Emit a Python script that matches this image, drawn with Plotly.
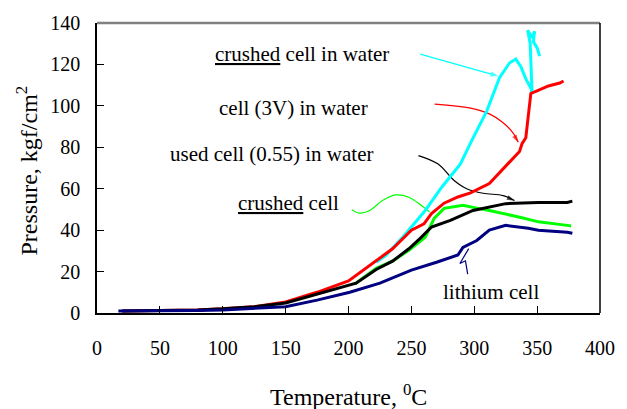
import plotly.graph_objects as go

# Pressure vs temperature records (T in degC, P in kgf/cm2)
crushed_water_T = [222, 230, 243, 252, 261, 274, 289, 297, 310, 320, 328, 333, 337, 341, 345, 346,
                   345.5, 344.5, 342.5, 346, 348, 347, 350, 352]
crushed_water_P = [24.5, 28, 36.5, 43, 49.5, 60.6, 72, 82, 97.6, 113.5, 120.7, 122.6, 119, 113, 108.6, 106,
                   118, 130, 136.5, 133, 136, 131, 128, 124]

cell3v_water_T = [20, 50, 80, 100, 125, 150, 175, 200, 214, 222, 235, 250, 260, 266, 276, 287, 297,
                  312, 325, 336, 338, 341, 342, 343, 345, 349, 359, 368, 371]
cell3v_water_P = [1, 1.2, 1.5, 2, 3, 5.3, 10, 15.5, 21.6, 25.5, 31, 40, 43, 48, 53, 56, 58,
                  62.5, 71, 78, 81.7, 84.6, 90, 96, 106, 107, 109.6, 111, 112]

used_water_T = [20, 50, 80, 100, 125, 150, 175, 200, 206, 222, 235, 248, 257, 266, 281, 299,
                312, 325, 351, 374, 378]
used_water_P = [1, 1.2, 1.5, 2, 3, 4.8, 9, 13.5, 14.4, 21, 25, 31, 36, 41.5, 44.7, 49.5,
                51, 52.8, 53.4, 53.4, 54]

crushed_T = [205, 222, 235, 248, 261, 268, 276, 291, 299, 312, 338, 351, 374, 377]
crushed_P = [14, 21.6, 25, 30.3, 36.5, 45.6, 50.5, 52, 51, 49.5, 46, 44, 42.3, 42]

lithium_T = [17, 50, 80, 100, 125, 150, 175, 201, 225, 250, 270, 287, 291, 302, 312, 325,
             343, 351, 374, 378]
lithium_P = [1, 1, 1.2, 1.5, 2.2, 3, 6.2, 10, 14.4, 20.7, 24.5, 28, 31.7, 35, 40, 42.3,
             40.9, 40, 39, 38.5]

# Leader lines from the labels to their curves
lead_crushed_water_T = [257, 319]
lead_crushed_water_P = [125, 114.4]
lead_cell3v_T = [268.5, 297, 312.4, 322.7, 330.5, 335]
lead_cell3v_P = [100.8, 98.9, 96, 92, 87.2, 82.4]
lead_used_T = [255.6, 271, 284, 294, 307, 323, 332]
lead_used_P = [76, 72, 64, 60, 57.8, 56.7, 54.3]
lead_crushed_T = [202.6, 209, 216.8, 227, 237.5, 248, 258, 264.6]
lead_crushed_P = [49.9, 48.2, 49.5, 54.3, 57, 55.9, 51.9, 48.7]
lead_lithium_T = [295.6, 291.7, 288.6, 293, 294.8]
lead_lithium_P = [31.1, 27.1, 23.9, 25.2, 18.75]

x_ticks = [0, 50, 100, 150, 200, 250, 300, 350, 400]
y_ticks = [0, 20, 40, 60, 80, 100, 120, 140]

CYAN, RED, GREEN, BLACK, NAVY = "#00FFFF", "#FF0000", "#00FF00", "#000000", "#000080"
FONT = "Liberation Serif, Times New Roman, serif"

fig = go.Figure()


def leader(xs, ys, color, spline=False, head=False):
    """Thin leader line; optionally finished with an arrowhead on its last point."""
    n = len(xs)
    trace = dict(x=xs, y=ys, hoverinfo="skip",
                 line=dict(color=color, width=1.2, shape="spline" if spline else "linear"))
    if head:
        trace["mode"] = "lines+markers"
        trace["marker"] = dict(symbol="arrow", angleref="previous", color=color,
                               size=[0] * (n - 1) + [8], line=dict(width=0))
    else:
        trace["mode"] = "lines"
    fig.add_trace(go.Scatter(**trace))


leader(lead_crushed_water_T, lead_crushed_water_P, CYAN, head=True)
leader(lead_cell3v_T, lead_cell3v_P, RED, spline=True, head=True)
leader(lead_used_T, lead_used_P, BLACK, spline=True, head=True)
leader(lead_crushed_T, lead_crushed_P, GREEN, spline=True)
leader(lead_lithium_T, lead_lithium_P, NAVY)

# Measured curves
fig.add_trace(go.Scatter(x=crushed_water_T, y=crushed_water_P, mode="lines",
                         line=dict(color=CYAN, width=3), name="crushed cell in water"))
fig.add_trace(go.Scatter(x=cell3v_water_T, y=cell3v_water_P, mode="lines",
                         line=dict(color=RED, width=3), name="cell (3V) in water"))
fig.add_trace(go.Scatter(x=crushed_T, y=crushed_P, mode="lines",
                         line=dict(color=GREEN, width=3), name="crushed cell"))
fig.add_trace(go.Scatter(x=used_water_T, y=used_water_P, mode="lines",
                         line=dict(color=BLACK, width=3), name="used cell (0.55) in water"))
fig.add_trace(go.Scatter(x=lithium_T, y=lithium_P, mode="lines",
                         line=dict(color=NAVY, width=3), name="lithium cell"))

labels = [
    dict(x=163, y=125, text="<u>crushed</u> cell in water"),
    dict(x=156.6, y=99, text="cell (3V) in water"),
    dict(x=139.5, y=77, text="used cell (0.55) in water"),
    dict(x=152, y=53, text="<u>crushed</u> cell"),
    dict(x=313.6, y=10, text="lithium cell"),
]
annots = [dict(x=a["x"], y=a["y"], xref="x", yref="y", text=a["text"], showarrow=False,
               font=dict(family=FONT, size=21, color="black"),
               xanchor="center", yanchor="middle") for a in labels]

# Axis titles
annots.append(dict(x=0.5, y=-0.282, xref="paper", yref="paper", text="Temperature, <sup>0</sup>C",
                   showarrow=False, font=dict(family=FONT, size=24, color="black"),
                   xanchor="center", yanchor="middle"))
annots.append(dict(x=-0.14, y=0.49, xref="paper", yref="paper", text="Pressure, kgf/cm<sup>2</sup>",
                   showarrow=False, textangle=-90, font=dict(family=FONT, size=24, color="black"),
                   xanchor="center", yanchor="middle"))

fig.update_layout(
    width=627, height=409,
    margin=dict(l=97, r=17, t=22, b=96),
    paper_bgcolor="white", plot_bgcolor="white",
    showlegend=False,
    font=dict(family=FONT, size=20, color="black"),
    annotations=annots,
    shapes=[
        dict(type="line", xref="paper", yref="paper", x0=0, x1=1, y0=1, y1=1,
             line=dict(color="#808080", width=2.5)),
        dict(type="line", xref="paper", yref="paper", x0=1, x1=1, y0=0, y1=1,
             line=dict(color="black", width=1.5)),
    ],
)
fig.update_xaxes(range=[0, 400], tickvals=x_ticks, ticks="inside", ticklen=7, tickcolor="black",
                 showline=True, linecolor="black", linewidth=1.5, showgrid=False, zeroline=False,
                 ticklabelstandoff=16, tickfont=dict(family=FONT, size=20, color="black"))
fig.update_yaxes(range=[0, 140], tickvals=y_ticks, ticks="inside", ticklen=7, tickcolor="black",
                 showline=True, linecolor="black", linewidth=1.5, showgrid=False, zeroline=False,
                 ticklabelstandoff=11, tickfont=dict(family=FONT, size=20, color="black"))

fig.write_html("out.html")
